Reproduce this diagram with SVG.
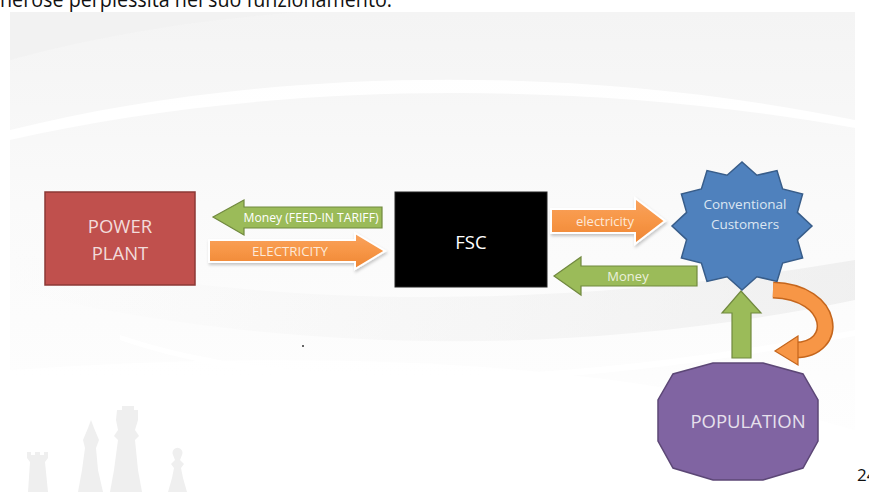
<svg xmlns="http://www.w3.org/2000/svg" width="869" height="492" viewBox="0 0 869 492">
<defs>
<style>
.lbl{font-family:"Open Sans","Liberation Sans",sans-serif;text-anchor:middle}
.g{fill:#9bbb59;stroke:#71893f;stroke-width:1.2}
.o{fill:url(#og);stroke:#ffffff;stroke-width:2;filter:url(#sh)}
.chess{fill:#efefef}
</style>
<linearGradient id="og" x1="0" y1="0" x2="0" y2="1">
<stop offset="0" stop-color="#f9a35f"/><stop offset="0.5" stop-color="#f79646"/><stop offset="1" stop-color="#ee8533"/>
</linearGradient>
<linearGradient id="bg" x1="0" y1="0" x2="0" y2="1">
<stop offset="0" stop-color="#f4f4f4"/><stop offset="0.4" stop-color="#fafafa"/><stop offset="1" stop-color="#ffffff"/>
</linearGradient>
<linearGradient id="band" x1="0" y1="0" x2="1" y2="0">
<stop offset="0" stop-color="#eeeeee" stop-opacity="0"/><stop offset="0.5" stop-color="#eaeaea" stop-opacity="0.6"/><stop offset="1" stop-color="#e2e2e2" stop-opacity="0.9"/>
</linearGradient>
<filter id="sh" x="-10%" y="-20%" width="120%" height="150%">
<feDropShadow dx="1" dy="2" stdDeviation="1.5" flood-color="#000" flood-opacity="0.22"/>
</filter>
</defs>
<rect width="869" height="492" fill="#ffffff"/>
<g id="background">
<rect x="10" y="12" width="845" height="480" fill="url(#bg)"/>
<path d="M10 60 C120 30 220 18 300 12 L10 12 Z" fill="#f0f0f0" opacity="0.6"/>
<path d="M10 130 C250 70 560 60 855 120 L855 128 C560 75 250 85 10 140 Z" fill="#ffffff" opacity="0.9"/>
<path d="M10 250 C200 300 500 320 855 260 L855 300 C520 370 220 340 10 290 Z" fill="url(#band)" opacity="0.5"/>
<path d="M120 335 C300 395 560 385 855 330 L855 336 C560 392 300 402 120 340 Z" fill="#ffffff" opacity="0.9"/>
<path d="M10 370 C300 350 600 355 855 430 L855 492 L10 492 Z" fill="#ffffff" opacity="0.7"/>
<circle cx="303" cy="346" r="1" fill="#333"/>
</g>
<g id="watermark">
<path class="chess" d="M28 492 L30 462 L27 458 L27 452 L31 452 L31 455 L35 455 L35 452 L40 452 L40 455 L44 455 L44 452 L48 452 L48 458 L45 462 L48 492 Z"/>
<path class="chess" d="M78 492 L82 470 L85 448 L83 440 L88 428 L91 420 L94 428 L99 440 L96 448 L98 470 L103 492 Z"/>
<path class="chess" d="M110 492 L114 470 L118 440 L114 436 L118 430 L116 420 L117 410 L122 410 L122 406 L134 406 L134 410 L138 410 L138 420 L135 430 L139 436 L135 440 L138 470 L142 492 Z"/>
<path class="chess" d="M168 492 L172 478 L174 468 L171 464 L175 460 L173 455 A5 5 0 1 1 182 455 L180 460 L184 464 L181 468 L183 478 L187 492 Z"/>
</g>
<text x="0" y="7" font-family="'Open Sans','Liberation Sans',sans-serif" font-size="21" fill="#111" textLength="392" lengthAdjust="spacingAndGlyphs">nerose perplessità nel suo funzionamento.</text>
<text x="857" y="481" font-family="'Open Sans','Liberation Sans',sans-serif" font-size="17" fill="#111">24</text>
<g id="connectors">
<g id="money-feedin">
<path class="g" d="M213 217 L244 200 L244 207 L382 207 L382 228 L244 228 L244 235 Z"/>
<text class="lbl" x="311" y="221.5" font-size="12" fill="#ffffff" textLength="135" lengthAdjust="spacingAndGlyphs">Money (FEED-IN TARIFF)</text>
</g>
<g id="electricity-pp">
<path class="o" d="M209 240 L355 240 L355 233 L385 251 L355 269 L355 262 L209 262 Z"/>
<text class="lbl" x="290" y="256" font-size="13" fill="#fde9d9" textLength="76" lengthAdjust="spacingAndGlyphs">ELECTRICITY</text>
</g>
<g id="electricity-cc">
<path class="o" d="M551 209 L635 209 L635 198 L665 221 L635 244 L635 233 L551 233 Z"/>
<text class="lbl" x="605" y="226" font-size="13" fill="#fde9d9">electricity</text>
</g>
<g id="money-cc">
<path class="g" d="M554 276 L581 257 L581 266 L697 266 L697 286 L581 286 L581 295 Z"/>
<text class="lbl" x="628" y="281" font-size="13" fill="#ebf1de">Money</text>
</g>
<g id="population-up">
<path class="g" d="M741 291 L761 313 L751 313 L751 358 L732 358 L732 313 L722 313 Z"/>
</g>
<g id="loop">
<path d="M773 290 C836 292 840 350 795 350" fill="none" stroke="#c5661d" stroke-width="17" stroke-linecap="butt"/>
<path d="M773 290 C836 292 840 350 795 350" fill="none" stroke="#f79646" stroke-width="14" stroke-linecap="butt"/>
<path d="M798 336 L775 351 L798 365 Z" fill="#f79646" stroke="#c5661d" stroke-width="1.2"/>
</g>
</g>
<g id="power-plant">
<rect x="45" y="192" width="150" height="93" fill="#c0504d" stroke="#8c3836" stroke-width="1.5"/>
<text class="lbl" x="120" y="233" font-size="18.5" fill="#f2dcdb">POWER</text>
<text class="lbl" x="120" y="260" font-size="18.5" fill="#f2dcdb">PLANT</text>
</g>
<g id="fsc">
<rect x="395" y="192" width="152" height="95" fill="#000000" stroke="#222" stroke-width="1"/>
<text class="lbl" x="471" y="249" font-size="18.5" fill="#ffffff">FSC</text>
</g>
<g id="conventional-customers">
<polygon points="812,226 797.4,212.4 802.6,194 782.6,188.9 777,170.6 756.9,175.3 742,162 727.1,175.3 707,170.6 701.4,188.9 681.4,194 686.6,212.4 672,226 686.6,239.6 681.4,258 701.4,263.1 707,281.4 727.1,276.7 742,290 756.9,276.7 777,281.4 782.6,263.1 802.6,258 797.4,239.6" fill="#4f81bd" stroke="#385d8a" stroke-width="1.5"/>
<text class="lbl" x="745" y="209" font-size="13.5" fill="#dce6f2">Conventional</text>
<text class="lbl" x="745" y="229" font-size="13.5" fill="#dce6f2">Customers</text>
</g>
<g id="population">
<polygon points="763,363 803,374 818,400 818,441 803,468 763,480 713,480 673,468 658,441 658,400 673,374 713,363" fill="#8064a2" stroke="#5c4776" stroke-width="1.5"/>
<text class="lbl" x="748" y="428" font-size="18.5" fill="#e6e0ec">POPULATION</text>
</g>
</svg>
